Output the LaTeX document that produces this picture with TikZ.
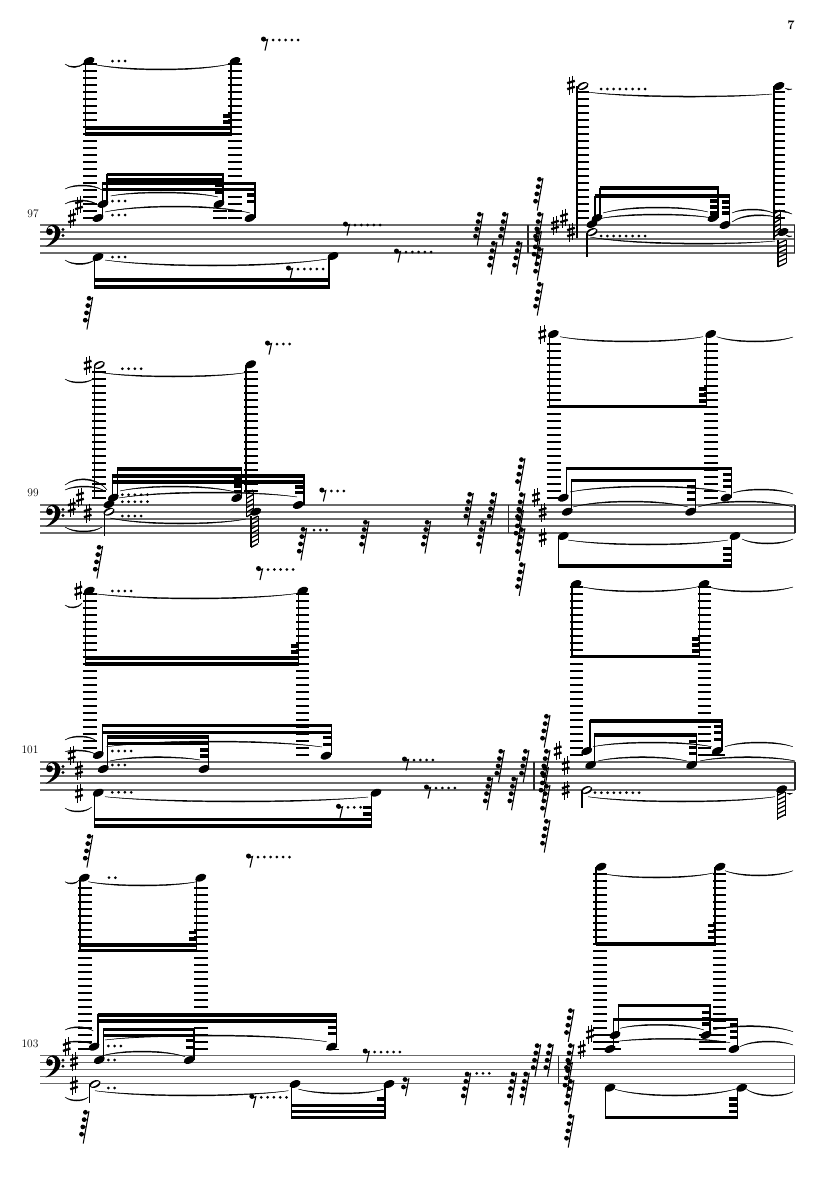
\documentclass[tikz,border=0pt]{standalone}
\usepackage{tikz}
\tikzset{
  staffline/.style={line width=1.25pt,draw=black!58},
  barl/.style={line width=1.2pt,draw=black!85},
  ledgerl/.style={line width=1.35pt,draw=black},
  stemline/.style={line width=1.1pt,draw=black},
  beamline/.style={line width=3.4pt,draw=black},
  stubline/.style={line width=3.1pt,draw=black},
  numtext/.style={font=\fontsize{11.5}{12}\selectfont,inner sep=0pt},
}
\newcommand{\mnote}[2]{\fill[shift={(#1,#2)},rotate=24] (0,0) ellipse [x radius=5.9pt,y radius=3.5pt];}
\newcommand{\mhollow}[2]{\fill[shift={(#1,#2)},rotate=22] (0,0) ellipse [x radius=5.9pt,y radius=3.6pt];
  \fill[white,shift={(#1,#2)},rotate=30] (0,0) ellipse [x radius=4.7pt,y radius=1.8pt];}
\newcommand{\mstem}[3]{\draw[stemline] (#1,#2) -- (#1,#3);}
\newcommand{\mbeam}[3]{\draw[beamline] (#1,#3) -- (#2,#3);}
\newcommand{\mstubs}[3]{\foreach \yy in {#3} {\draw[stubline] (#1,\yy) -- (#2,\yy);}}
\newcommand{\mled}[4]{\pgfmathtruncatemacro\nledg{round((#4-#3)/7)}\foreach \k in {0,...,\nledg} {\draw[ledgerl] (#1,{#3+7*\k}) -- (#2,{#3+7*\k});}}
\newcommand{\mtie}[5]{%
  \pgfmathsetmacro\cA{(#5-(#2+#4)/8)*4/3}%
  \pgfmathsetmacro\sgn{(\cA>#2)?1:-1}%
  \pgfmathsetmacro\cB{\cA-1.7*\sgn}%
  \pgfmathsetmacro\xA{#1+0.25*(#3-#1)}%
  \pgfmathsetmacro\xB{#3-0.25*(#3-#1)}%
  \fill (#1,#2) .. controls (\xA,\cA) and (\xB,\cA) .. (#3,#4) .. controls (\xB,\cB) and (\xA,\cB) .. (#1,#2) -- cycle;
  \draw[line width=.45pt] (#1,#2) .. controls (\xA,\cA) and (\xB,\cA) .. (#3,#4);}
\newcommand{\mdots}[3]{\pgfmathtruncatemacro\nd{#3-1}\foreach \k in {0,...,\nd} {\fill ({#1+6.3*\k},#2) circle [radius=1.5pt];}}
\newcommand{\mrest}[3]{\fill (#1-1.5,#2-1) circle [radius=2.5pt];
  \draw[line width=1.1pt] (#1-1.5,#2+1) .. controls (#1,#2+1) .. (#1+2.5,#2-0.5) -- (#1,#2+10.5);
  \mdots{#1+8}{#2}{#3}}
\newcommand{\mstack}[2]{\draw[line width=1.05pt] (#1,#2) -- (#1-5.8,#2+32.5);
  \foreach \k in {0,1,2,3} {
    \pgfmathsetmacro\ys{#2+1+7.3*\k}
    \pgfmathsetmacro\xs{#1-(\ys-#2)*0.178}
    \fill (\xs-3.4,\ys+0.3) circle [radius=2.4pt];
    \draw[line width=.9pt] (\xs-3.2,\ys+1.6) -- (\xs,\ys);}}
\newcommand{\msharp}[2]{
  \draw[line width=.95pt] (#1-1.7,#2-8) -- (#1-1.7,#2+9.5);
  \draw[line width=.95pt] (#1+1.7,#2-9.5) -- (#1+1.7,#2+8);
  \draw[line width=2.3pt] (#1-3.8,#2-1.8) -- (#1+3.8,#2-4.2);
  \draw[line width=2.3pt] (#1-3.8,#2+4.2) -- (#1+3.8,#2+1.8);}
\newcommand{\mclef}[2]{\begin{scope}[shift={(#1,#2)}]
  \fill (4.6,6.8) circle [radius=3.4pt];
  \fill (1.2,7) .. controls (1.2,2) and (5,-0.4) .. (8,-0.4) .. controls (13,-0.4) and (15.5,4) .. (15.5,8)
     .. controls (15.5,14) and (8,20) .. (0.5,21.8) .. controls (6,18) and (10.3,13) .. (10.3,7)
     .. controls (10.3,3) and (8.5,0.9) .. (6.5,0.9) .. controls (4,0.9) and (2,3.5) .. (2.5,5) -- cycle;
  \fill (18,4.5) circle [radius=1.6pt];
  \fill (18,10.5) circle [radius=1.6pt];
  \end{scope}}
\newcommand{\mstaff}[1]{\foreach \k in {0,1,2,3,4} {\draw[staffline] (40,{#1+7*\k}) -- (795,{#1+7*\k});}}
\newcommand{\mbar}[2]{\draw[barl] (#1,#2) -- (#1,#2+28);}
\newcommand{\mhatch}[4]{\draw[stemline] (#1,#3) -- (#1,#4);
  \draw[line width=.8pt] (#2,#3) -- (#2,#4-4);
  \pgfmathtruncatemacro\nh{floor((#4-#3-3)/4.6)}
  \foreach \k in {0,...,\nh} {\draw[line width=1.3pt] (#1,{#3+3.8+4.6*\k}) -- (#2,{#3+4.6*\k});}}
\begin{document}
\begin{tikzpicture}[x=1pt,y=-1pt]
\useasboundingbox (0,0) rectangle (835,1181);
\fill[white] (0,0) rectangle (835,1181);
\node[font=\fontsize{13}{14}\selectfont\bfseries,inner sep=0pt] (pagenum) at (791,25.5) {7};
% ===================== system 97
\mstaff{225}
\node[numtext] (m97) at (33,214) {97};
\mclef{45}{225}
\msharp{72}{218}\msharp{79}{205}
\mled{83}{97}{64}{218}\mled{228}{242}{64}{218}
\draw[ledgerl] (213,211) -- (227,211); \draw[ledgerl] (213,218) -- (227,218);
\mstem{85.5}{61}{135.5}\mstem{231}{61}{135.5}
\mbeam{85}{231.5}{128}\mbeam{85}{231.5}{134}
\mstubs{223}{231}{116,122}
\mnote{89}{61}\mnote{235}{61}\mdots{112.5}{61}{3}
\mtie{92}{64}{230}{64}{70}\mtie{65}{64}{84}{63}{67.5}
\mrest{265}{40}{5}
\mstem{107}{174}{204}\mstem{102.7}{182}{218}\mstem{223}{174}{204}\mstem{255}{182}{218}
\mbeam{106.5}{223.5}{174.5}\mbeam{106.5}{223.5}{180}\mbeam{102.2}{255.5}{183.5}\mbeam{102.2}{255.5}{189.5}
\mstubs{215}{223}{185,192}\mstubs{247}{255}{195,201.7}
\mnote{103}{204}\mnote{98}{218}\mnote{219}{204}\mnote{250}{218}
\mdots{112.5}{201}{3}\mdots{112.5}{215}{3}\mdots{112.5}{257}{3}
\mtie{110.7}{196}{218}{197}{192}\mtie{105}{212}{250}{213}{206}
\mtie{65}{189}{102}{190}{185}\mtie{65}{204}{98}{205}{200}
\mnote{98}{257}\mstem{94.5}{257}{288}\mnote{333}{256}\mstem{329}{256}{288}
\mbeam{94}{329.5}{280}\mbeam{94}{329.5}{287}
\mtie{105}{260}{327}{259}{266}\mtie{65}{260}{96}{259}{264.5}
\mrest{290}{269}{5}
\mstack{92.7}{297}
\mrest{347}{225}{5}\mrest{398}{252}{5}
\mstack{483}{213}\mstack{497}{242}\mstack{508}{213}\mstack{522}{242}
\mbar{528}{225}\mbar{794.5}{225}
\mstack{543}{178}\mstack{543}{213}\mstack{541.5}{231}\mstack{543}{248}\mstack{543}{283}
\msharp{555}{225}\msharp{564}{218}\msharp{571}{232}
\msharp{571}{85}
\mled{578}{589}{92}{218}\mled{773}{785}{92}{218}
\mstem{577}{86}{238}\mstem{774}{86}{238}
\mhollow{583}{86}\mnote{779}{86}\mdots{601}{89}{8}
\mtie{587}{92}{772}{94}{97}\mtie{785}{88}{792}{89}{90}
\mstem{600}{188}{218}\mstem{595}{196}{224}\mstem{718}{188}{218}\mstem{729.5}{196}{225}
\mbeam{599.5}{718.5}{188}\mbeam{594.5}{730}{196}
\mstubs{710}{718}{201,207,213}\mstubs{722}{729.5}{202,207.5,213}
\mnote{597}{218}\mnote{592}{224}\mhollow{592}{232}\mstem{587}{233}{257}
\mnote{713}{218}\mnote{725}{225}
\mdots{601}{236}{8}
\mtie{603}{213}{708}{212}{207}\mtie{598}{219}{712}{218}{214}
\mtie{732}{213}{773}{213}{209}\mtie{775}{210}{792}{214}{212}
\mtie{732}{222}{775}{217}{215}
\mtie{590}{237}{775}{241}{244}
\mhatch{774}{780}{210}{240}\mhatch{778}{786}{240}{267}
\mnote{783}{232}\mtie{786}{235}{792}{236}{237}
% ===================== system 99
\mstaff{505}
\node[numtext] (m99) at (33,492.5) {99};
\mclef{45}{505}
\msharp{71.7}{507}\msharp{80}{497}\msharp{87.7}{513}
\msharp{87.7}{365}
\mled{92.3}{106}{372}{498}\mled{244}{258}{372}{491}
\mstem{94.3}{365}{498}\mstem{246}{365}{490}
\mhollow{99.3}{365}\mnote{250.7}{364.3}\mdots{122.3}{368.7}{4}
\mtie{101.7}{372.7}{245}{372.7}{377}\mtie{65}{379}{93}{379}{383}
\mrest{269}{344}{3}
\mstem{117.3}{468}{498}\mstem{112.7}{475}{504}\mstem{241.7}{468}{498}\mstem{304}{475}{505}
\mbeam{117}{242}{469}\mbeam{117}{242}{476}\mbeam{112.2}{304.5}{476}\mbeam{112.2}{304.5}{482}
\mstubs{233.5}{241.7}{480,486,491.7}\mstubs{295}{304}{487,492.5}
\mnote{113.3}{497.7}\mnote{109}{504.3}\mhollow{109}{511.7}\mstem{104.3}{512}{536}
\mnote{236.7}{498}\mnote{298.3}{505}
\mdots{122.3}{494.7}{5}\mdots{122.3}{501.7}{5}\mdots{122.3}{516}{4}
\mtie{120}{491}{235}{492}{486}\mtie{119}{498}{297}{497}{492}
\mtie{110}{518}{246}{519}{524}
\mtie{65}{485}{107}{490}{479}\mtie{65}{490}{103}{490}{486}\mtie{65}{527}{102}{527}{532}
\mhatch{246.7}{253}{490}{517}\mhatch{251}{258}{516}{546.7}
\mnote{255.7}{511.7}
\mstack{102.7}{546}
\mrest{260}{569.5}{5}
\mrest{323.3}{491}{3}
\mstack{306.7}{528}\mdots{314}{530}{3}
\mstack{369}{521}\mstack{430.7}{521}\mstack{473.3}{493}\mstack{486}{521}\mstack{496.7}{493}
\mbar{508.3}{505}\mbar{795}{505}
\mstack{525}{458.3}\mstack{525}{493.3}\mstack{523.5}{510}\mstack{525}{528.3}\mstack{525}{563.3}
\msharp{536}{497.3}\msharp{542.7}{512.3}\msharp{542.7}{537.3}
\msharp{542.3}{334.3}
\mled{546.7}{560.7}{344}{498}\mled{704}{717.7}{344}{498}
\mstem{549.3}{334}{407}\mstem{706.7}{334}{407}
\mbeam{549}{707}{406.7}
\mstubs{699.3}{706.7}{389,395,401}
\mnote{553.3}{334}\mnote{710.7}{334}
\mtie{560}{336.7}{703}{336.7}{342}\mtie{716.7}{336.7}{793}{337}{342}
\mstem{566.3}{468}{498}\mstem{571.7}{480}{512}\mstem{731.7}{468}{498}\mstem{695.7}{480}{512}
\mbeam{565.8}{732.2}{468.7}\mbeam{571.2}{696.2}{480.3}
\mstubs{723}{731.7}{474.3,480.7,486.7}\mstubs{687}{695.7}{486.7,492.7,499.3}
\mnote{563.3}{497.7}\mnote{567.3}{511.7}\mnote{690.7}{511.7}\mnote{726}{497.7}
\mtie{570}{492}{726}{492}{486}\mtie{573}{507}{688}{507}{501}\mtie{698}{507}{793}{507}{501}\mtie{733}{493}{793}{494}{489}
\mstem{558.7}{536}{566.7}\mstem{731.7}{536}{566.7}
\mbeam{558.2}{732.2}{566}
\mstubs{723}{731.7}{548.3,554.3,560.7}
\mnote{563.3}{536}\mnote{735}{536}
\mtie{568}{540}{728}{540}{545}\mtie{742}{539}{793}{539}{544}
% ===================== system 101
\mstaff{762}
\node[numtext] (m101) at (30,750) {101};
\mclef{45}{762}
\msharp{71.7}{755}\msharp{79}{770}\msharp{79}{793.3}
\msharp{78.3}{590.7}
\mled{82.7}{96.7}{594}{748}\mled{296}{309.3}{594}{755}
\mstem{85.7}{591}{664}\mstem{298.7}{591}{664}
\mbeam{85.2}{299.2}{658}\mbeam{85.2}{299.2}{664}
\mstubs{290.7}{298.7}{646,652}
\mnote{89.3}{590.7}\mnote{302.7}{590.7}\mdots{112.3}{591}{4}
\mtie{91.7}{593.3}{298}{593.3}{599}\mtie{65}{605}{82}{603}{608}
\mstem{102.3}{725}{755}\mstem{107.3}{737}{769}\mstem{208.7}{737}{769}\mstem{331.7}{725}{755}
\mbeam{101.8}{332.2}{725.7}\mbeam{101.8}{332.2}{732.3}\mbeam{106.8}{209.2}{737}\mbeam{106.8}{209.2}{743.7}
\mstubs{200}{208.7}{750,756}\mstubs{323.3}{331.7}{737.7,744.3}
\mnote{98.3}{755}\mnote{103.3}{769}\mnote{204}{769}\mnote{326}{755.7}
\mdots{112.3}{751}{4}\mdots{112.3}{765}{3}\mdots{112.3}{792.3}{4}
\mtie{110}{761}{200}{760}{756.7}\mtie{106.7}{746.7}{322}{747}{741}
\mtie{65}{740}{96.7}{741}{736}\mtie{65}{751.7}{95}{754}{750}\mtie{65}{808}{91.7}{807}{812}
\mstem{94.3}{792.7}{827}\mstem{371.7}{792.7}{827}
\mbeam{93.8}{372.2}{819.3}\mbeam{93.8}{372.2}{826}
\mstubs{363.3}{371.7}{807.3,814}
\mnote{98.3}{792.7}\mnote{376}{792.7}
\mtie{105}{796.7}{368}{797}{802}
\mrest{340}{807.3}{3}
\mstack{92.7}{835}
\mrest{406}{760}{4}\mrest{428}{788}{4}
\mstack{504.3}{750}\mstack{529}{750}\mstack{492.7}{777.7}\mstack{517.3}{777.7}
\mbar{534}{762}\mbar{795}{762}
\mstack{550}{715}\mstack{550}{750}\mstack{548.5}{767}\mstack{550}{785}\mstack{550}{820}
\msharp{557.7}{750.7}\msharp{565.7}{765.7}\msharp{565.7}{790}
\mled{570}{583.3}{587}{755}\mled{697.7}{710.7}{587}{755}
\mstem{572}{584}{656.7}\mstem{699.3}{584}{656.7}
\mbeam{571.5}{699.8}{656.7}
\mstubs{691.7}{699.3}{639,645,651}
\mnote{576}{584}\mnote{704}{584}
\mtie{581.7}{586.7}{698}{586.7}{592}\mtie{708}{586.7}{793}{587}{592}
\mstem{590}{720}{751}\mstem{594.7}{734}{765}\mstem{696.7}{734}{765}\mstem{722}{720}{751}
\mbeam{589.5}{722.5}{721}\mbeam{594.2}{697.2}{735}
\mstubs{714.3}{722}{726.7,732.7,739.3}\mstubs{689}{696.7}{741.7,747.7,753.7}
\mnote{586.7}{751}\mnote{590.7}{765}\mnote{691.7}{765}\mnote{717.3}{751}
\draw[ledgerl] (711,755) -- (725,755);
\mtie{593}{746.7}{711.7}{746.7}{742}\mtie{598}{761}{686.7}{761}{756.7}
\mtie{700}{761}{795}{761}{756.7}\mtie{725}{746.7}{792.7}{746.7}{742}
\mhollow{586.7}{790}\mstem{582}{790}{808.3}\mdots{595}{792.7}{8}
\mtie{588}{796.7}{775}{796.7}{802}
\mhatch{777.3}{785}{791.7}{820}
\mnote{781.7}{789.3}\mtie{786.7}{793}{792.7}{793}{794.5}
% ===================== system 103
\mstaff{1055.7}
\node[numtext] (m103) at (30,1044) {103};
\mclef{45}{1055.7}
\msharp{66.7}{1046.7}\msharp{74}{1061.7}\msharp{74}{1085}
\mled{78.3}{92.3}{888}{1049}\mled{194}{207.7}{888}{1049}
\mstem{80}{878}{951}\mstem{196.7}{878}{951}
\mbeam{79.5}{197.2}{945}\mbeam{79.5}{197.2}{950.7}
\mstubs{189}{196.7}{932.3,939}
\mnote{84.3}{877.7}\mnote{200.7}{877.7}\mdots{109}{877.7}{2}
\mtie{88.3}{881.7}{196.7}{881.7}{886}\mtie{65}{881.7}{79.3}{880}{884}
\mrest{250}{857}{6}
\mstem{98}{1014.3}{1047}\mstem{103.3}{1028.3}{1060}\mstem{194}{1028.3}{1060}\mstem{336.7}{1014.3}{1047}
\mbeam{97.5}{337.2}{1015}\mbeam{97.5}{337.2}{1021}\mbeam{102.8}{194.5}{1029.3}\mbeam{102.8}{194.5}{1035.3}
\mstubs{328}{336.7}{1027.3,1033.3}\mstubs{185.7}{194}{1040.7,1047.3}
\mnote{94}{1046.7}\mnote{99.3}{1060}\mnote{189.3}{1060}\mnote{331.7}{1046.7}
\draw[ledgerl] (326,1049.5) -- (339,1049.5);
\mdots{108.3}{1046}{3}\mdots{108.3}{1060}{2}\mdots{108.3}{1088}{2}
\mtie{101.7}{1056}{185}{1056.7}{1051}\mtie{105}{1040}{326.7}{1041.7}{1035}
\mtie{65}{1030}{93.3}{1031}{1026.7}\mtie{65}{1043}{91.7}{1044}{1041}\mtie{65}{1097}{88.3}{1097}{1101}
\mhollow{95}{1084}\mstem{89.7}{1084}{1102.7}
\mtie{95}{1090.7}{288.3}{1090.7}{1096}
\mrest{253.3}{1097.3}{5}
\mstem{291.7}{1084}{1118.5}\mstem{385}{1084}{1118.5}
\mbeam{291.2}{385.5}{1105.7}\mbeam{291.2}{385.5}{1111.7}\mbeam{291.2}{385.5}{1117.3}
\mstubs{377.3}{385}{1099}
\mnote{295}{1084}\mnote{389}{1084}
\mtie{298.3}{1089}{383.3}{1089.3}{1094}
\mrest{366.7}{1052}{5}
\draw[line width=1.05pt] (409,1078) -- (405.5,1096);
\fill (405,1079.5) circle [radius=2.4pt];\fill (403.5,1087) circle [radius=2.4pt];
\draw[line width=.9pt] (405,1081) -- (408.6,1079.5);\draw[line width=.9pt] (403.5,1088.5) -- (407.2,1087);
\mstack{89}{1111}
\mstack{470.7}{1072.7}\mdots{476.7}{1073.3}{3}
\mstack{516.7}{1072.7}\mstack{529.3}{1072.7}\mstack{540.7}{1044.3}\mstack{553.3}{1044.3}
\mbar{558.7}{1055.7}\mbar{794.5}{1055.7}
\mstack{574}{1009.3}\mstack{574}{1044.3}\mstack{572.5}{1062}\mstack{574}{1080}\mstack{574}{1115}
\msharp{581.7}{1049}\msharp{590}{1034}
\mled{593.3}{607.3}{874}{1049}\mled{712.7}{726}{874}{1049}
\draw[ledgerl] (699,1035) -- (713,1035);\draw[ledgerl] (699,1042) -- (713,1042);\draw[ledgerl] (699,1049) -- (713,1049);
\draw[ledgerl] (607,1035) -- (619,1035);\draw[ledgerl] (607,1042) -- (619,1042);\draw[ledgerl] (607,1049) -- (621,1049);
\mstem{596}{867}{944.5}\mstem{715}{867}{944.5}
\mbeam{595.5}{715.5}{944}
\mstubs{707.7}{715}{925.7,931.7,937.7}
\mnote{601}{866.7}\mnote{720}{866.7}
\mtie{605}{874}{713}{873}{878}\mtie{725}{870.7}{793}{870.7}{876}
\mstem{618.3}{1005}{1035}\mstem{613.3}{1019}{1049}\mstem{710}{1005}{1035}\mstem{737.7}{1019}{1049}
\mbeam{617.8}{710.5}{1005.7}\mbeam{612.8}{738.2}{1019.5}
\mstubs{702}{710}{1012.3,1018.3,1024}\mstubs{730}{737.7}{1025,1031.7,1037.7}
\mnote{615}{1035}\mnote{610}{1049}\mnote{706}{1035}\mnote{734}{1049}
\mtie{620}{1028.3}{704}{1030}{1024.3}\mtie{615}{1041.7}{730}{1042.7}{1038.3}
\mtie{713}{1030}{793}{1031.7}{1025.7}\mtie{740}{1046.7}{793}{1045}{1041}
\mstem{605.3}{1088}{1117.5}\mstem{737.7}{1088}{1117.5}
\mbeam{604.8}{738.2}{1117.3}
\mstubs{729.3}{737.7}{1099,1105,1111.7}
\mnote{610}{1087.7}\mnote{741.7}{1087.7}
\mtie{615}{1089.3}{738}{1088.3}{1096}\mtie{746.7}{1089.3}{793}{1091.7}{1096}
\end{tikzpicture}
\end{document}
